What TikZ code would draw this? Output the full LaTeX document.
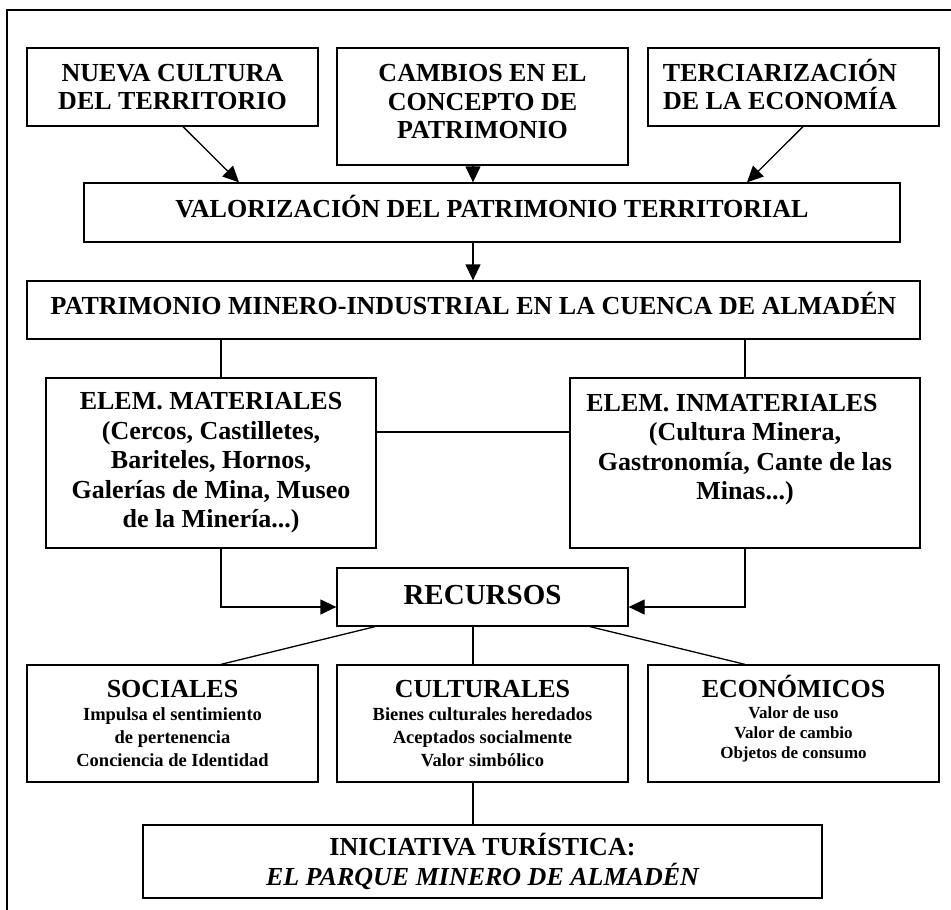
\documentclass[tikz,border=0pt]{standalone}
\usepackage{fontspec}
\setmainfont{Liberation Serif}
\usetikzlibrary{arrows.meta}
\newcommand\vsup[2]{\rule[-#2]{0pt}{\dimexpr #1+#2\relax}}
\begin{document}
\begin{tikzpicture}[x=1pt,y=-1pt,
  box/.style={draw, line width=1.3pt, inner sep=0pt, align=center, font=\bfseries\fontsize{26}{28.5}\selectfont},
  sub/.style={box, font=\bfseries\fontsize{18.5}{23}\selectfont},
  link/.style={line width=1.3pt},
  arr/.style={line width=1.3pt, -{Triangle[length=16pt,width=15pt]}}
]
\useasboundingbox (0,0) rectangle (951,910);
\draw[line width=1.5pt] (951,10) -- (7,10) -- (7,910);

\node[box, minimum width=291pt, minimum height=78pt] (n1) at (172.5,87) {NUEVA CULTURA\\DEL TERRITORIO};
\node[box, minimum width=291pt, minimum height=117pt] (n2) at (482.5,106.5) {CAMBIOS EN EL\\CONCEPTO DE\\PATRIMONIO\vsup{0pt}{9.6pt}};
\node[box, minimum width=291pt, minimum height=78pt] (n3) at (793.5,87) {\vsup{17.6pt}{0pt}\smash{TERCIARIZACIÓN}\kern27pt\\DE LA ECONOMÍA\kern27pt};

\node[box, minimum width=816pt, minimum height=59pt] (val) at (492,212.5) {\vsup{17.6pt}{8.6pt}\smash{VALORIZACIÓN DEL PATRIMONIO TERRITORIAL}};
\node[box, minimum width=893pt, minimum height=58pt] (pat) at (473.5,310) {\vsup{17.6pt}{9.6pt}\smash{PATRIMONIO MINERO-INDUSTRIAL EN LA CUENCA DE ALMADÉN}};

\node[box, font=\bfseries\fontsize{26}{29.5}\selectfont, minimum width=330pt, minimum height=170pt] (mat) at (211,463) {ELEM. MATERIALES\\(Cercos, Castilletes,\\Bariteles, Hornos,\\Galerías de Mina, Museo\\de la Minería...)};
\node[box, font=\bfseries\fontsize{26}{29.5}\selectfont, minimum width=350pt, minimum height=170pt] (inm) at (745,463) {ELEM. INMATERIALES\kern26pt\\(Cultura Minera,\\Gastronomía, Cante de las\\Minas...)\vsup{0pt}{32.6pt}};

\node[box, font=\bfseries\fontsize{29}{30}\selectfont, minimum width=291pt, minimum height=58pt] (rec) at (482.5,597) {\vsup{19.6pt}{5.6pt}RECURSOS};

\node[sub, minimum width=291pt, minimum height=117pt] (soc) at (172.5,723.5) {{\fontsize{26}{23}\selectfont SOCIALES}\\Impulsa el sentimiento\\de pertenencia\\Conciencia de Identidad};
\node[sub, minimum width=291pt, minimum height=117pt] (cul) at (482.5,723.5) {{\fontsize{26}{23}\selectfont CULTURALES}\\Bienes culturales heredados\\Aceptados socialmente\\Valor simbólico};
\node[box, font=\bfseries\fontsize{17}{20}\selectfont, minimum width=291pt, minimum height=117pt] (eco) at (793.5,723.5) {\vsup{17.6pt}{0pt}{\fontsize{26}{20}\selectfont\smash{ECONÓMICOS}}\\[1pt]Valor de uso\\Valor de cambio\\Objetos de consumo\vsup{0pt}{9.6pt}};

\node[box, font=\bfseries\fontsize{26}{30}\selectfont, minimum width=679pt, minimum height=73pt] (ini) at (482.5,861.5) {\vsup{17.6pt}{0pt}\smash{INICIATIVA TURÍSTICA:}\\\smash{\itshape EL PARQUE MINERO DE ALMADÉN}};

% connectors
\draw[arr] ([xshift=10.5pt]n1.south) -- ([xshift=-253pt]val.north);
\draw[arr] ([xshift=-9.5pt]n2.south) -- ([xshift=-19pt]val.north);
\draw[arr] ([xshift=9.5pt]n3.south) -- ([xshift=255pt]val.north);
\draw[arr] ([xshift=-19pt]val.south) -- ([xshift=-0.5pt]pat.north);
\draw[link] ([xshift=10pt]mat.north) -- ([xshift=10pt]mat.north |- pat.south);
\draw[link] (inm.north) -- (inm.north |- pat.south);
\draw[link] ([yshift=31pt]mat.east) -- ([yshift=31pt]inm.west);
\draw[arr] ([xshift=10pt]mat.south) |- ([yshift=-10pt]rec.west);
\draw[arr] (inm.south) |- ([yshift=-10pt]rec.east);
\draw[link] ([xshift=-107.5pt]rec.south) -- ([xshift=48.5pt]soc.north);
\draw[link] ([xshift=-9.5pt]rec.south) -- ([xshift=-9.5pt]cul.north);
\draw[link] ([xshift=107.5pt]rec.south) -- ([xshift=-48.5pt]eco.north);
\draw[link] ([xshift=-9.5pt]cul.south) -- ([xshift=-9.5pt]ini.north);
\end{tikzpicture}
\end{document}
